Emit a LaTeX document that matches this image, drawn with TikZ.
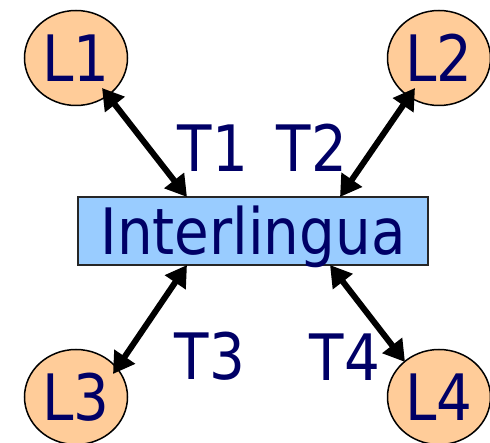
\documentclass[tikz,border=0pt]{standalone}
\usepackage{fontspec}
\setmainfont{DejaVu Sans}[FakeStretch=0.88]
\usetikzlibrary{arrows.meta,shapes.geometric}
\definecolor{txtc}{HTML}{000066}
\definecolor{langc}{HTML}{FFCC99}
\definecolor{interc}{HTML}{99CCFF}
\begin{document}
\begin{tikzpicture}[x=1pt,y=-1pt,
  bigfont/.style={font=\fontsize{64}{64}\selectfont},
  langnode/.style={ellipse,draw=black,line width=1.5pt,fill=langc,minimum width=103pt,minimum height=95pt,inner sep=0pt,text=txtc,bigfont},
  ilbox/.style={rectangle,draw=black!85,line width=1.5pt,fill=interc,minimum width=350pt,minimum height=68pt,inner sep=0pt,text height=48pt,text depth=0pt,text=txtc,bigfont},
  tlabel/.style={anchor=base,inner sep=0pt,text=txtc,bigfont},
  conn/.style={line width=6pt,{Triangle[length=21pt,width=24pt]}-{Triangle[length=21pt,width=24pt]}}]
\useasboundingbox (0,0) rectangle (490,443);
\node[langnode] (L1) at (76,58) {L1};
\node[langnode] (L2) at (439,58) {L2};
\node[langnode] (L3) at (76,397) {L3};
\node[langnode] (L4) at (439,397) {L4};
\node[ilbox] (IL) at (253,231) {Interlingua};
\coordinate (a1) at (102,88);
\coordinate (b1) at (187,197);
\coordinate (a2) at (415,88);
\coordinate (b2) at (340,197);
\coordinate (a3) at (113,374);
\coordinate (b3) at (187,265);
\coordinate (a4) at (405,362);
\coordinate (b4) at (330,265);
\draw[conn] (a1) -- (b1);
\draw[conn] (a2) -- (b2);
\draw[conn] (a3) -- (b3);
\draw[conn] (a4) -- (b4);
\node[tlabel] (T1) at (213,172) {T1};
\node[tlabel] (T2) at (312,172) {T2};
\node[tlabel] (T3) at (210,380) {T3};
\node[tlabel] (T4) at (345,381) {T4};
\end{tikzpicture}
\end{document}
